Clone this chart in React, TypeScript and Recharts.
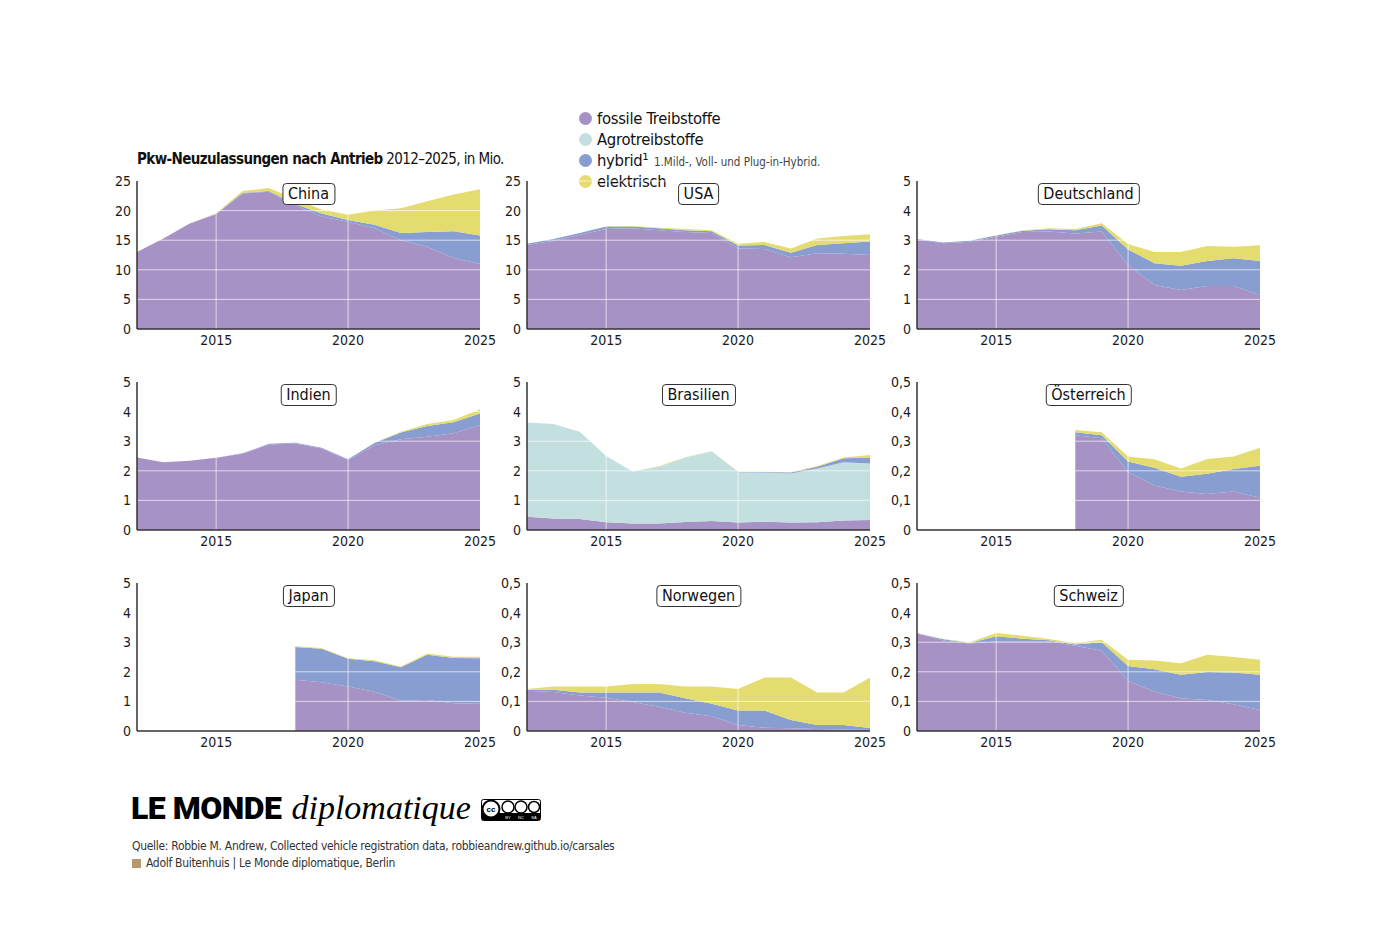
import React from 'react';
import { AreaChart, Area, XAxis, YAxis, ReferenceLine } from 'recharts';

const FONT = "'Liberation Sans Narrow', 'DejaVu Sans Condensed', 'Open Sans', sans-serif";

const C_FOSSIL = '#a692c4';
const C_AGRO = '#c4dfdf';
const C_HYBRID = '#889dd0';
const C_ELEC = '#e5dc6f';

const years = [2012, 2013, 2014, 2015, 2016, 2017, 2018, 2019, 2020, 2021, 2022, 2023, 2024, 2025];
const years18 = [2018, 2019, 2020, 2021, 2022, 2023, 2024, 2025];

// China (Mio.)
const chinaFossil = [13.0, 15.3, 17.8, 19.4, 22.9, 23.2, 20.9, 19.0, 18.1, 17.0, 15.0, 13.9, 12.0, 11.0];
const chinaHybrid = [0, 0, 0, 0.05, 0.1, 0.1, 0.2, 0.5, 0.3, 0.6, 1.2, 2.5, 4.5, 4.8];
const chinaElec = [0, 0, 0, 0.1, 0.3, 0.5, 0.8, 0.7, 0.9, 2.4, 4.2, 5.2, 6.2, 7.8];

// USA
const usaFossil = [14.2, 14.9, 15.9, 16.9, 17.0, 16.7, 16.4, 16.2, 13.6, 13.5, 12.1, 12.8, 12.7, 12.5];
const usaHybrid = [0.2, 0.3, 0.3, 0.4, 0.3, 0.3, 0.3, 0.3, 0.5, 0.7, 0.8, 1.4, 1.8, 2.3];
const usaElec = [0, 0, 0, 0.05, 0.1, 0.1, 0.2, 0.2, 0.3, 0.5, 0.7, 1.1, 1.2, 1.2];

// Deutschland
const deFossil = [3.02, 2.9, 2.95, 3.12, 3.28, 3.29, 3.23, 3.29, 2.16, 1.49, 1.32, 1.45, 1.45, 1.15];
const deHybrid = [0.02, 0.02, 0.03, 0.04, 0.04, 0.08, 0.11, 0.21, 0.53, 0.73, 0.82, 0.85, 0.94, 1.15];
const deElec = [0, 0, 0, 0.01, 0.01, 0.03, 0.04, 0.07, 0.18, 0.38, 0.46, 0.5, 0.39, 0.53];

// Indien
const inFossil = [2.45, 2.29, 2.34, 2.44, 2.58, 2.89, 2.92, 2.75, 2.36, 2.86, 3.07, 3.15, 3.27, 3.55];
const inHybrid = [0, 0, 0, 0, 0.01, 0.02, 0.03, 0.03, 0.03, 0.08, 0.22, 0.36, 0.37, 0.39];
const inElec = [0, 0, 0, 0, 0, 0, 0, 0, 0, 0.01, 0.03, 0.07, 0.08, 0.14];

// Brasilien
const brFossil = [0.45, 0.39, 0.37, 0.26, 0.22, 0.22, 0.27, 0.3, 0.25, 0.28, 0.25, 0.26, 0.32, 0.34];
const brAgro = [3.18, 3.19, 2.95, 2.24, 1.76, 1.92, 2.18, 2.35, 1.7, 1.66, 1.66, 1.82, 1.97, 1.91];
const brHybrid = [0, 0, 0, 0, 0, 0, 0, 0, 0.01, 0.02, 0.03, 0.06, 0.13, 0.19];
const brElec = [0, 0, 0, 0, 0, 0.01, 0.01, 0.01, 0.01, 0.01, 0.01, 0.02, 0.03, 0.09];

// Österreich (ab 2018)
const atFossil = [0.32, 0.31, 0.195, 0.15, 0.13, 0.122, 0.13, 0.109];
const atHybrid = [0.01, 0.01, 0.036, 0.06, 0.05, 0.068, 0.076, 0.108];
const atElec = [0.008, 0.01, 0.017, 0.029, 0.028, 0.05, 0.042, 0.061];

// Japan (ab 2018)
const jpFossil = [1.73, 1.65, 1.5, 1.33, 1.02, 1.05, 0.94, 0.92];
const jpHybrid = [1.11, 1.13, 0.94, 1.03, 1.13, 1.53, 1.53, 1.54];
const jpElec = [0.02, 0.02, 0.02, 0.03, 0.03, 0.04, 0.04, 0.05];

// Norwegen
const noFossil = [0.136, 0.132, 0.12, 0.112, 0.098, 0.082, 0.062, 0.05, 0.02, 0.011, 0.009, 0.007, 0.005, 0.003];
const noHybrid = [0.003, 0.007, 0.01, 0.018, 0.032, 0.048, 0.049, 0.042, 0.049, 0.058, 0.028, 0.013, 0.015, 0.007];
const noElec = [0.003, 0.011, 0.02, 0.02, 0.029, 0.029, 0.039, 0.058, 0.073, 0.112, 0.144, 0.11, 0.11, 0.171];

// Schweiz
const chFossil = [0.329, 0.306, 0.295, 0.303, 0.303, 0.303, 0.288, 0.271, 0.17, 0.133, 0.111, 0.105, 0.09, 0.071];
const chHybrid = [0.001, 0.004, 0.002, 0.017, 0.009, 0.004, 0.004, 0.029, 0.05, 0.076, 0.079, 0.094, 0.108, 0.119];
const chElec = [0.001, 0.001, 0.003, 0.011, 0.01, 0.004, 0.005, 0.008, 0.021, 0.029, 0.039, 0.059, 0.052, 0.051];

const ticksBig = [0, 5, 10, 15, 20, 25];
const ticksMid = [0, 1, 2, 3, 4, 5];
const ticksSmall = [0, 0.1, 0.2, 0.3, 0.4, 0.5];
const xTicks = [2015, 2020, 2025];

const legendItems = [
  { label: 'fossile Treibstoffe', color: C_FOSSIL },
  { label: 'Agrotreibstoffe', color: C_AGRO },
  { label: 'hybrid¹', color: C_HYBRID },
  { label: 'elektrisch', color: C_ELEC },
];

function build(ys: number[], f: number[], h: number[], e: number[], a?: number[]) {
  return ys.map((y, i) => ({ year: y, fossil: f[i], agro: a ? a[i] : 0, hybrid: h[i], elec: e[i] }));
}

const fmtComma = (v: number) => (v === 0 ? '0' : String(v).replace('.', ','));

type PanelProps = {
  name: string;
  data: any[];
  left: number;
  top: number;
  ticks: number[];
};

const PLOT_W = 343;

function Panel({ name, data, left, top, ticks }: PanelProps) {
  const max = ticks[ticks.length - 1];
  const tickStyle = { fontSize: 14, fill: '#1a1a1a', fontFamily: FONT };
  return (
    <div style={{ position: 'absolute', left: left - 50, top: top - 20, width: 410, height: 198 }}>
      <AreaChart width={410} height={198} data={data} margin={{ top: 20, right: 17, bottom: 0, left: 10 }}>
        <XAxis
          dataKey="year"
          type="number"
          domain={[2012, 2025]}
          ticks={xTicks}
          allowDataOverflow
          tickLine={false}
          tickSize={0}
          tickMargin={6}
          height={30}
          axisLine={{ stroke: '#333', strokeWidth: 1.5 }}
          tick={tickStyle}
        />
        <YAxis
          type="number"
          domain={[0, max]}
          ticks={ticks}
          tickFormatter={fmtComma}
          tickLine={false}
          tickSize={0}
          tickMargin={6}
          width={40}
          axisLine={{ stroke: '#333', strokeWidth: 1.5 }}
          tick={tickStyle}
        />
        <Area dataKey="fossil" stackId="s" type="linear" stroke="none" fill={C_FOSSIL} fillOpacity={1} isAnimationActive={false} />
        <Area dataKey="agro" stackId="s" type="linear" stroke="none" fill={C_AGRO} fillOpacity={1} isAnimationActive={false} />
        <Area dataKey="hybrid" stackId="s" type="linear" stroke="none" fill={C_HYBRID} fillOpacity={1} isAnimationActive={false} />
        <Area dataKey="elec" stackId="s" type="linear" stroke="none" fill={C_ELEC} fillOpacity={1} isAnimationActive={false} />
        {ticks
          .filter((t) => t > 0)
          .map((t) => (
            <ReferenceLine key={'y' + t} y={t} stroke="#fff" strokeOpacity={0.65} strokeWidth={1} />
          ))}
        <ReferenceLine x={2015} stroke="#fff" strokeOpacity={0.65} strokeWidth={1} />
        <ReferenceLine x={2020} stroke="#fff" strokeOpacity={0.65} strokeWidth={1} />
      </AreaChart>
      <div
        style={{
          position: 'absolute',
          left: 50 + PLOT_W / 2,
          top: 22,
          transform: 'translateX(-50%)',
          border: '1.3px solid #333',
          borderRadius: 4,
          background: '#fff',
          padding: '0 5px',
          height: 20,
          lineHeight: '20px',
          fontFamily: FONT,
          fontSize: 16,
          color: '#111',
          whiteSpace: 'nowrap',
        }}
      >
        {name}
      </div>
    </div>
  );
}

const COLS = [137, 527, 917];
const ROWS = [181, 382, 583];

const panels: PanelProps[] = [
  { name: 'China', data: build(years, chinaFossil, chinaHybrid, chinaElec), left: COLS[0], top: ROWS[0], ticks: ticksBig },
  { name: 'USA', data: build(years, usaFossil, usaHybrid, usaElec), left: COLS[1], top: ROWS[0], ticks: ticksBig },
  { name: 'Deutschland', data: build(years, deFossil, deHybrid, deElec), left: COLS[2], top: ROWS[0], ticks: ticksMid },
  { name: 'Indien', data: build(years, inFossil, inHybrid, inElec), left: COLS[0], top: ROWS[1], ticks: ticksMid },
  { name: 'Brasilien', data: build(years, brFossil, brHybrid, brElec, brAgro), left: COLS[1], top: ROWS[1], ticks: ticksMid },
  { name: 'Österreich', data: build(years18, atFossil, atHybrid, atElec), left: COLS[2], top: ROWS[1], ticks: ticksSmall },
  { name: 'Japan', data: build(years18, jpFossil, jpHybrid, jpElec), left: COLS[0], top: ROWS[2], ticks: ticksMid },
  { name: 'Norwegen', data: build(years, noFossil, noHybrid, noElec), left: COLS[1], top: ROWS[2], ticks: ticksSmall },
  { name: 'Schweiz', data: build(years, chFossil, chHybrid, chElec), left: COLS[2], top: ROWS[2], ticks: ticksSmall },
];

function CcBadge() {
  return (
    <svg width={60} height={22} viewBox="0 0 60 22">
      <rect x={0.5} y={0.5} width={59} height={21} rx={2} fill="#fff" stroke="#000" />
      <rect x={1} y={14} width={58} height={7} fill="#000" />
      <circle cx={10} cy={10} r={8.5} fill="#fff" stroke="#000" strokeWidth={2} />
      <text x={10} y={13} fontSize={8} fontWeight={700} textAnchor="middle" fontFamily="sans-serif">cc</text>
      <circle cx={27} cy={8} r={6} fill="#fff" stroke="#000" strokeWidth={1.5} />
      <circle cx={40} cy={8} r={6} fill="#fff" stroke="#000" strokeWidth={1.5} />
      <circle cx={53} cy={8} r={5.5} fill="#fff" stroke="#000" strokeWidth={1.5} />
      <text x={27} y={20} fontSize={4} fill="#fff" textAnchor="middle" fontFamily="sans-serif">BY</text>
      <text x={40} y={20} fontSize={4} fill="#fff" textAnchor="middle" fontFamily="sans-serif">NC</text>
      <text x={53} y={20} fontSize={4} fill="#fff" textAnchor="middle" fontFamily="sans-serif">SA</text>
    </svg>
  );
}

export default function App() {
  return (
    <div style={{ position: 'absolute', left: 0, top: 0, width: 1392, height: 938, background: '#fff', overflow: 'hidden' }}>
      <div
        style={{
          position: 'absolute',
          left: 137,
          top: 150,
          fontFamily: FONT,
          fontSize: 15,
          letterSpacing: -0.6,
          color: '#111',
          whiteSpace: 'nowrap',
        }}
      >
        <span style={{ fontWeight: 700 }}>Pkw-Neuzulassungen nach Antrieb</span>
        <span>  2012–2025, in Mio.</span>
      </div>

      {legendItems.map((it, i) => (
        <div
          key={it.label}
          style={{
            position: 'absolute',
            left: 579,
            top: 108 + i * 21,
            height: 20,
            display: 'flex',
            alignItems: 'center',
            fontFamily: FONT,
            fontSize: 16.5,
            letterSpacing: -0.3,
            color: '#111',
            whiteSpace: 'nowrap',
          }}
        >
          <span style={{ display: 'inline-block', width: 13, height: 13, borderRadius: 7, background: it.color, marginRight: 5 }} />
          <span>{it.label}</span>
        </div>
      ))}
      <div
        style={{
          position: 'absolute',
          left: 654,
          top: 155,
          fontFamily: FONT,
          fontSize: 11.5,
          color: '#444',
          whiteSpace: 'nowrap',
        }}
      >
        1.Mild-, Voll- und Plug-in-Hybrid.
      </div>

      {panels.map((p) => (
        <Panel key={p.name} {...p} />
      ))}

      <div style={{ position: 'absolute', left: 131, top: 789, whiteSpace: 'nowrap', display: 'flex', alignItems: 'baseline' }}>
        <span style={{ fontFamily: "'Roboto', sans-serif", fontWeight: 900, fontSize: 32, color: '#000', letterSpacing: -0.5 }}>LE MONDE</span>
        <span style={{ fontFamily: "'Liberation Serif', serif", fontStyle: 'italic', fontSize: 34, color: '#000', marginLeft: 10 }}>diplomatique</span>
      </div>
      <div style={{ position: 'absolute', left: 481, top: 799 }}>
        <CcBadge />
      </div>
      <div style={{ position: 'absolute', left: 132, top: 839, fontFamily: FONT, fontSize: 12, letterSpacing: -0.3, color: '#333', whiteSpace: 'nowrap' }}>
        Quelle: Robbie M. Andrew, Collected vehicle registration data, robbieandrew.github.io/carsales
      </div>
      <div
        style={{
          position: 'absolute',
          left: 132,
          top: 856,
          fontFamily: FONT,
          fontSize: 12,
          letterSpacing: -0.3,
          color: '#333',
          whiteSpace: 'nowrap',
          display: 'flex',
          alignItems: 'center',
        }}
      >
        <span style={{ display: 'inline-block', width: 9, height: 9, background: '#b39b6f', marginRight: 5 }} />
        <span>Adolf Buitenhuis | Le Monde diplomatique, Berlin</span>
      </div>
    </div>
  );
}
